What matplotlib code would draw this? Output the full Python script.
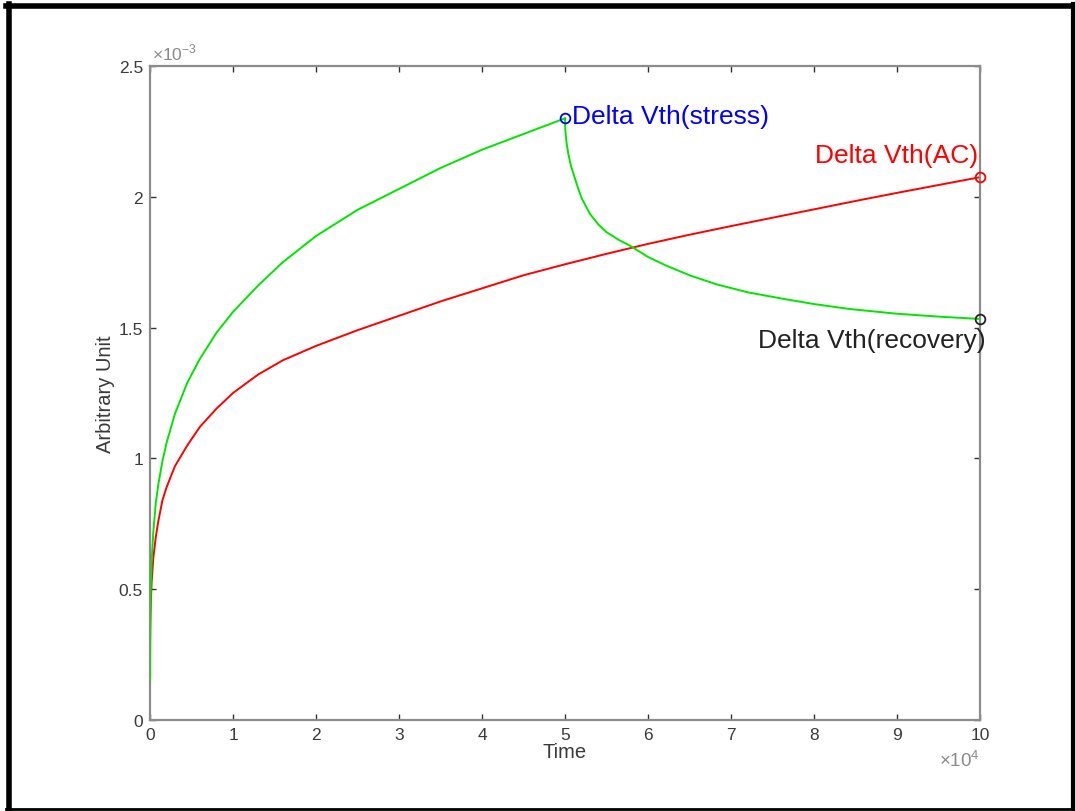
import numpy as np
import matplotlib.pyplot as plt
from matplotlib.ticker import FuncFormatter, MultipleLocator
from matplotlib.lines import Line2D

plt.rcParams['font.family'] = ['Liberation Sans', 'DejaVu Sans']
plt.rcParams['mathtext.fontset'] = 'custom'
plt.rcParams['mathtext.rm'] = 'Liberation Sans'

# values (time in 1e4 s, shift in 1e-3)
t_stress = np.array([0, 0.002, 0.005, 0.01, 0.02, 0.04, 0.07, 0.1, 0.15, 0.2, 0.3, 0.45, 0.6, 0.8,
                     1.0, 1.3, 1.6, 2.0, 2.5, 3.0, 3.5, 4.0, 4.5, 5.0]) * 1e4
v_stress = np.array([0.15, 0.35, 0.44, 0.52, 0.61, 0.72, 0.83, 0.90, 0.99, 1.06, 1.17, 1.29, 1.38, 1.48,
                     1.56, 1.66, 1.75, 1.85, 1.95, 2.03, 2.11, 2.18, 2.24, 2.30]) * 1e-3

t_recov = np.array([5.0, 5.002, 5.005, 5.01, 5.02, 5.04, 5.07, 5.1, 5.15, 5.2, 5.3, 5.4, 5.5, 5.65,
                    5.8, 6.0, 6.22, 6.5, 6.83, 7.2, 7.63, 8.0, 8.43, 9.0, 9.5, 10.0]) * 1e4
v_recov = np.array([2.30, 2.27, 2.252, 2.232, 2.204, 2.164, 2.12, 2.09, 2.04, 1.995, 1.935, 1.895, 1.865, 1.835,
                    1.81, 1.77, 1.737, 1.70, 1.665, 1.635, 1.61, 1.59, 1.571, 1.553, 1.542, 1.533]) * 1e-3

t_ac = np.array([0, 0.002, 0.005, 0.01, 0.02, 0.04, 0.07, 0.1, 0.15, 0.2, 0.3, 0.45, 0.6, 0.8, 1.0, 1.3,
                 1.6, 2.0, 2.5, 3.0, 3.5, 4.0, 4.5, 5.0, 5.5, 6.0, 6.5, 7.0, 7.5, 8.0, 8.5, 9.0, 9.5, 10.0]) * 1e4
v_ac = np.array([0.08, 0.30, 0.38, 0.45, 0.53, 0.62, 0.70, 0.76, 0.84, 0.89, 0.97, 1.05, 1.12, 1.19, 1.25, 1.32,
                 1.375, 1.43, 1.49, 1.545, 1.60, 1.65, 1.70, 1.742, 1.782, 1.82, 1.855, 1.888, 1.92, 1.952, 1.984,
                 2.015, 2.045, 2.075]) * 1e-3

fig = plt.figure(figsize=(10.75, 8.12), dpi=100)
ax = fig.add_axes([150/1075, 1 - 721/812, 830/1075, 654/812])

green = '#00e600'
ax.plot(t_ac, v_ac, color='#ff0000', lw=1.4, zorder=2)
ax.plot(t_stress, v_stress, color=green, lw=1.4, zorder=3)
ax.plot(t_recov, v_recov, color=green, lw=1.4, zorder=3)

ax.plot(t_stress[-1], v_stress[-1], 'o', mfc='none', mec='#0000ff', ms=7, mew=1.3, clip_on=False, zorder=4)
ax.plot(t_ac[-1], v_ac[-1], 'o', mfc='none', mec='#ff0000', ms=7, mew=1.3, clip_on=False, zorder=4)
ax.plot(t_recov[-1], v_recov[-1], 'o', mfc='none', mec='#222222', ms=7, mew=1.3, clip_on=False, zorder=4)

ax.annotate('Delta Vth(stress)', (t_stress[-1], v_stress[-1]), xytext=(5, 2),
            textcoords='offset points', ha='left', va='center', color='#0000ff', fontsize=19)
ax.annotate('Delta Vth(AC)', (t_ac[-1], v_ac[-1]), xytext=(-1, 16),
            textcoords='offset points', ha='right', va='center', color='#ff0000', fontsize=19)
ax.annotate('Delta Vth(recovery)', (t_recov[-1], v_recov[-1]), xytext=(4, -15),
            textcoords='offset points', ha='right', va='center', color='#222222', fontsize=19,
            annotation_clip=False)

ax.set_xlim(0, 1e5)
ax.set_ylim(0, 2.5e-3)
ax.xaxis.set_major_locator(MultipleLocator(1e4))
ax.yaxis.set_major_locator(MultipleLocator(0.5e-3))
ax.xaxis.set_major_formatter(FuncFormatter(lambda v, p: '%g' % round(v / 1e4, 6)))
ax.yaxis.set_major_formatter(FuncFormatter(lambda v, p: '%g' % round(v / 1e-3, 6)))

for s in ax.spines.values():
    s.set_color('#8c8c8c')
    s.set_linewidth(1.6)
ax.tick_params(direction='in', length=4.5, width=1, color='#333333', labelcolor='#3a3a3a',
               labelsize=12.5, top=True, right=True, pad=5)

ax.set_xlabel('Time', fontsize=14.5, color='#3a3a3a', labelpad=0)
ax.set_ylabel('Arbitrary Unit', fontsize=14.5, color='#3a3a3a', labelpad=3)

ax.text(0.002, 1.005, r'$\times10^{-3}$', transform=ax.transAxes, ha='left', va='bottom',
        fontsize=12.5, color='#8a8a8a')
ax.text(1.0, -0.045, r'$\times 10^{4}$', transform=ax.transAxes, ha='right', va='top',
        fontsize=13.5, color='#8a8a8a')

# black frame round the whole picture
W, H = 1075, 812
for xs, ys, lw in [([8.5, 8.5], [5, 810], 4),
                   ([6, 1075], [6.5, 6.5], 4),
                   ([6, 1075], [810, 810], 2),
                   ([1073, 1073], [5, 811], 3)]:
    fig.add_artist(Line2D([x / W for x in xs], [1 - y / H for y in ys], color='black', lw=lw))

fig.savefig('out.png', dpi=100)
